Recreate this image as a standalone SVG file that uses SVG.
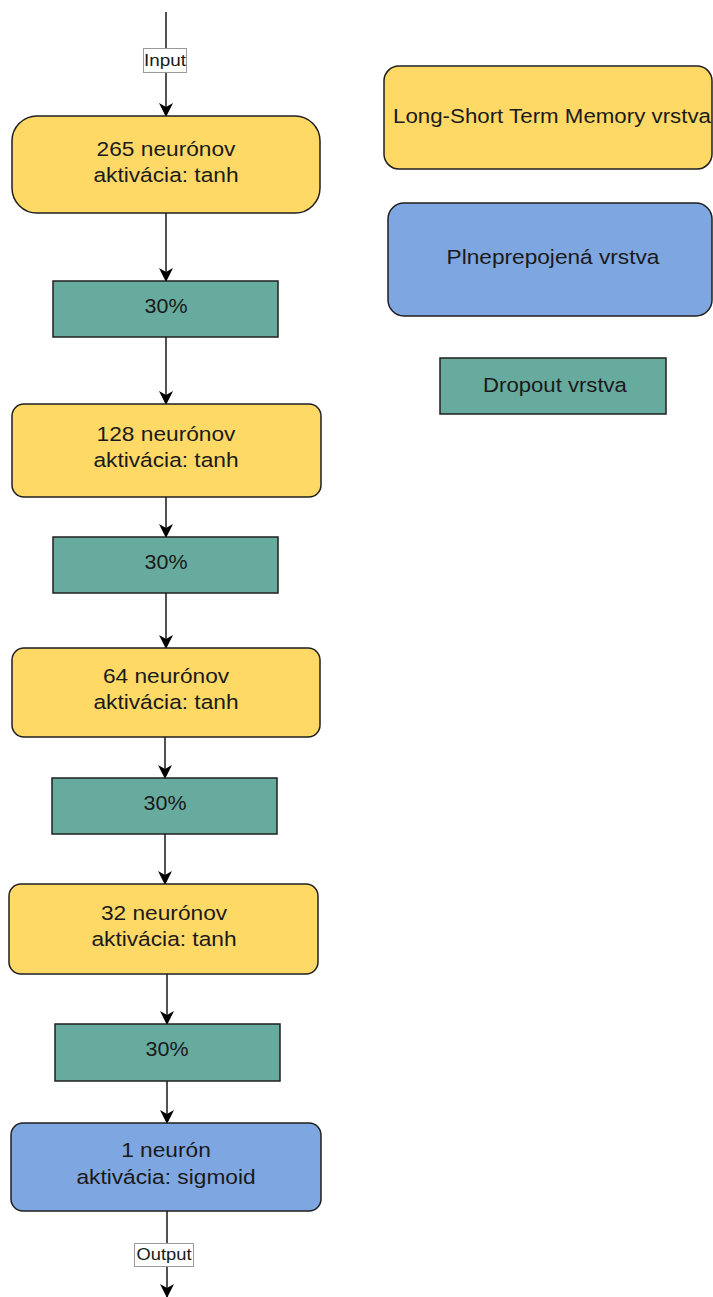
<svg xmlns="http://www.w3.org/2000/svg" width="713" height="1297" viewBox="0 0 713 1297">
  <style>
    .lstm { fill: #FFD966; stroke: #1f1f1f; stroke-width: 1.5; }
    .dense { fill: #7EA6E0; stroke: #1f1f1f; stroke-width: 1.5; }
    .drop { fill: #67AB9F; stroke: #1f1f1f; stroke-width: 1.5; }
    .edge { fill: none; stroke: #1a1a1a; stroke-width: 1.5; marker-end: url(#arrow); }
    .lbl-box { fill: #ffffff; stroke: #9a9a9a; stroke-width: 1; }
    text { font-family: "Liberation Sans", Arial, sans-serif; font-size: 19.5px; fill: #1a1a1a; text-anchor: middle; }
    .small { font-size: 16px; }
  </style>
  <defs>
    <marker id="arrow" viewBox="0 0 14 14" refX="13" refY="7" markerWidth="14" markerHeight="14" markerUnits="userSpaceOnUse" orient="auto">
      <path d="M0,0 L14,7 L0,14 L4,7 Z" fill="#000"/>
    </marker>
  </defs>
  <rect width="713" height="1297" fill="#ffffff"/>

  <!-- connectors -->
  <g id="connectors">
    <line class="edge" x1="166" y1="12" x2="166" y2="116"/>
    <line class="edge" x1="166" y1="213" x2="166" y2="281"/>
    <line class="edge" x1="166" y1="337" x2="166" y2="404"/>
    <line class="edge" x1="166" y1="497" x2="166" y2="537"/>
    <line class="edge" x1="166" y1="593" x2="166" y2="648"/>
    <line class="edge" x1="165" y1="737" x2="165" y2="778"/>
    <line class="edge" x1="165" y1="834" x2="165" y2="884"/>
    <line class="edge" x1="167" y1="974" x2="167" y2="1024"/>
    <line class="edge" x1="167" y1="1081" x2="167" y2="1123"/>
    <line class="edge" x1="167" y1="1211" x2="167" y2="1297"/>
    <g id="label-input">
      <rect class="lbl-box" x="143.5" y="48.5" width="43" height="24"/>
      <g transform="translate(165 0) scale(1.18 1)"><text class="small" x="0" y="66">Input</text></g>
    </g>
    <g id="label-output">
      <rect class="lbl-box" x="134.5" y="1243.5" width="59" height="23"/>
      <g transform="translate(164 0) scale(1.145 1)"><text class="small" x="0" y="1260.5">Output</text></g>
    </g>
  </g>

  <!-- network layers -->
  <g id="lstm-265">
    <rect class="lstm" x="12" y="116" width="308" height="97" rx="25"/>
    <g transform="translate(166 0) scale(1.165 1)">
      <text x="0" y="156">265 neurónov</text>
      <text x="0" y="182">aktivácia: tanh</text>
    </g>
  </g>
  <g id="dropout-1">
    <rect class="drop" x="53" y="281" width="225" height="56"/>
    <g transform="translate(166 0) scale(1.1 1)"><text x="0" y="313">30%</text></g>
  </g>
  <g id="lstm-128">
    <rect class="lstm" x="12" y="404" width="309" height="93" rx="12"/>
    <g transform="translate(166 0) scale(1.165 1)">
      <text x="0" y="441">128 neurónov</text>
      <text x="0" y="467">aktivácia: tanh</text>
    </g>
  </g>
  <g id="dropout-2">
    <rect class="drop" x="53" y="537" width="225" height="56"/>
    <g transform="translate(166 0) scale(1.1 1)"><text x="0" y="569">30%</text></g>
  </g>
  <g id="lstm-64">
    <rect class="lstm" x="12" y="648" width="308" height="89" rx="12"/>
    <g transform="translate(166 0) scale(1.165 1)">
      <text x="0" y="683">64 neurónov</text>
      <text x="0" y="709">aktivácia: tanh</text>
    </g>
  </g>
  <g id="dropout-3">
    <rect class="drop" x="52" y="778" width="225" height="56"/>
    <g transform="translate(165 0) scale(1.1 1)"><text x="0" y="810">30%</text></g>
  </g>
  <g id="lstm-32">
    <rect class="lstm" x="9" y="884" width="309" height="90" rx="12"/>
    <g transform="translate(164 0) scale(1.165 1)">
      <text x="0" y="920">32 neurónov</text>
      <text x="0" y="946">aktivácia: tanh</text>
    </g>
  </g>
  <g id="dropout-4">
    <rect class="drop" x="55" y="1024" width="225" height="57"/>
    <g transform="translate(167 0) scale(1.1 1)"><text x="0" y="1056">30%</text></g>
  </g>
  <g id="dense-1">
    <rect class="dense" x="11" y="1123" width="310" height="88" rx="12"/>
    <g transform="translate(166 0) scale(1.165 1)">
      <text x="0" y="1157">1 neurón</text>
      <text x="0" y="1184">aktivácia: sigmoid</text>
    </g>
  </g>

  <!-- legend -->
  <g id="legend-lstm">
    <rect class="lstm" x="384" y="66" width="328" height="103" rx="15"/>
    <g transform="translate(552 0) scale(1.144 1)"><text x="0" y="123">Long-Short Term Memory vrstva</text></g>
  </g>
  <g id="legend-dense">
    <rect class="dense" x="388" y="203" width="324" height="113" rx="16"/>
    <g transform="translate(553 0) scale(1.163 1)"><text x="0" y="264">Plneprepojená vrstva</text></g>
  </g>
  <g id="legend-dropout">
    <rect class="drop" x="440" y="358" width="226" height="56"/>
    <g transform="translate(555 0) scale(1.135 1)"><text x="0" y="392">Dropout vrstva</text></g>
  </g>
</svg>
